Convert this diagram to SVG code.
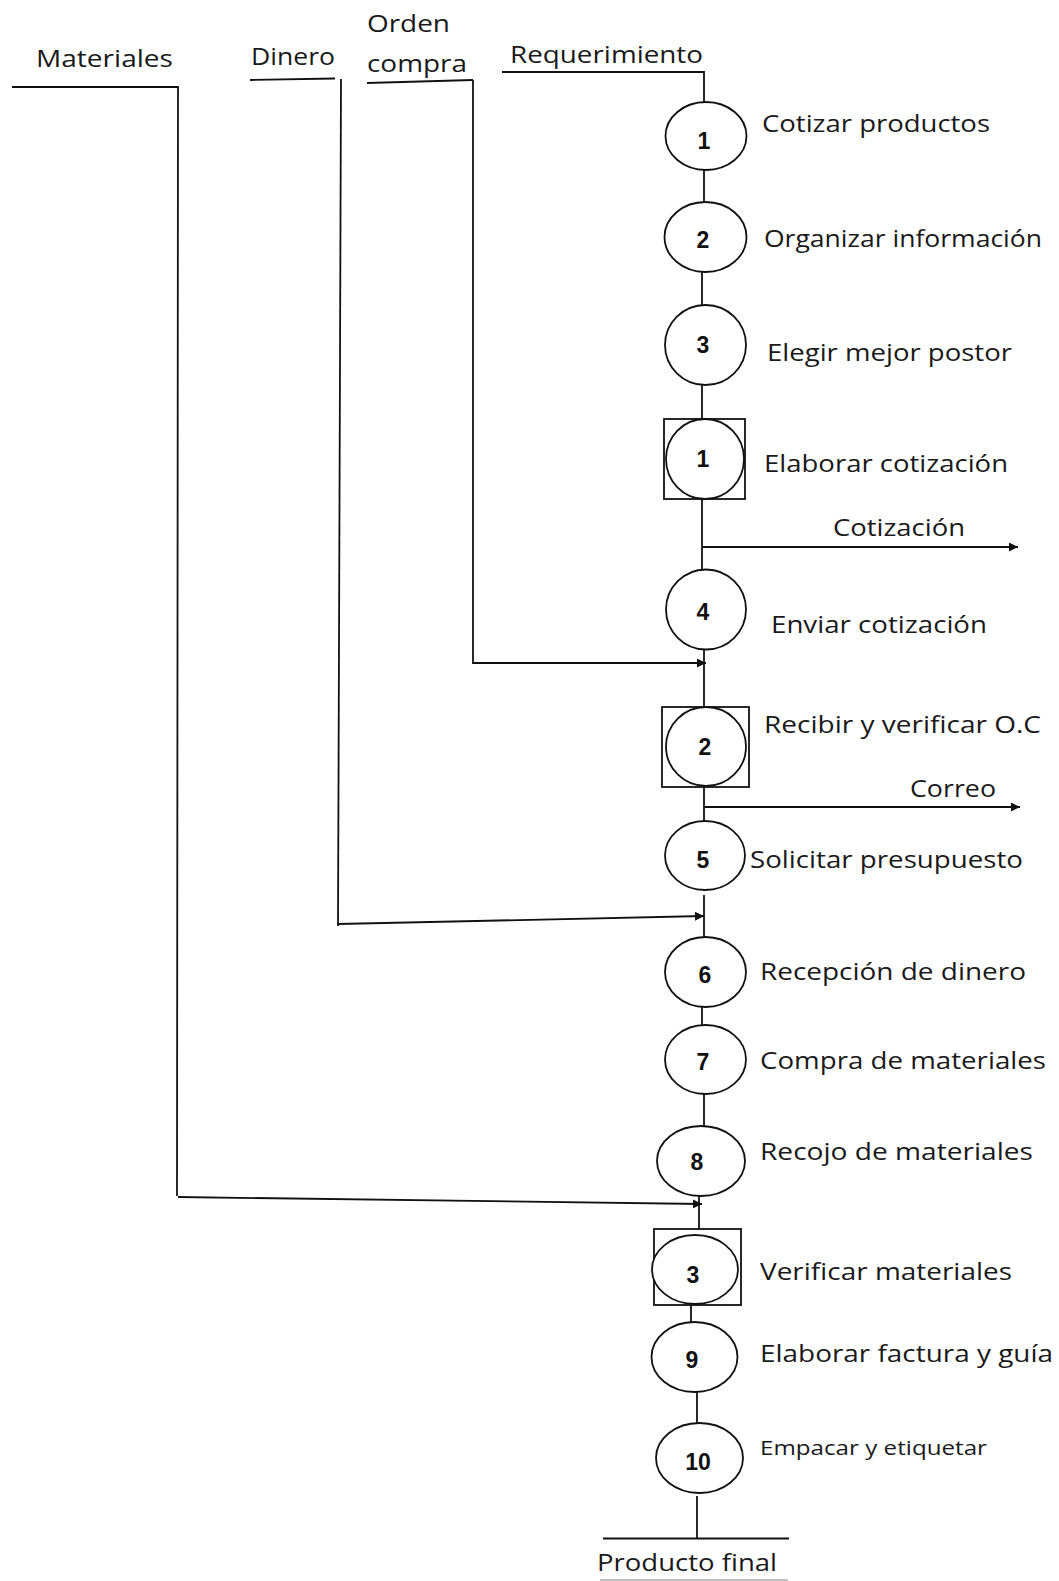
<svg xmlns="http://www.w3.org/2000/svg" width="1059" height="1581" viewBox="0 0 1059 1581">
<style>
.bg{fill:#fff}
.ln{fill:none;stroke:#111;stroke-width:1.8}
.lt{fill:none;stroke:#aaa;stroke-width:1.5}
.nd{fill:#fff;stroke:#111;stroke-width:1.8}
.bx{fill:none;stroke:#111;stroke-width:1.8}
.lb{font-family:"Open Sans","Liberation Sans",sans-serif;font-size:23px;fill:#1a1a1a}
.sm{font-size:20.5px}
.nm{font-family:"Liberation Sans",Arial,sans-serif;font-size:23px;font-weight:bold;fill:#111;text-anchor:middle}
</style>
<defs>
<marker id="ah" viewBox="0 0 10 10" refX="10" refY="5" markerWidth="11" markerHeight="9" markerUnits="userSpaceOnUse" orient="auto">
<path d="M0,0 L10,5 L0,10 z" fill="#111"/>
</marker>
</defs>
<rect class="bg" x="0" y="0" width="1059" height="1581"/>

<g id="connectors">
<polyline class="ln" points="502,72 704,72 704,102"/>
<line class="ln" x1="704" y1="170" x2="704" y2="202"/>
<line class="ln" x1="702" y1="272" x2="702" y2="305"/>
<line class="ln" x1="702" y1="385" x2="702" y2="419"/>
<line class="ln" x1="702" y1="499" x2="702" y2="570"/>
<line class="ln" x1="702" y1="547" x2="1018" y2="547" marker-end="url(#ah)"/>
<line class="ln" x1="704" y1="650" x2="704" y2="707"/>
<line class="ln" x1="367" y1="83" x2="473" y2="80"/>
<polyline class="ln" points="473,80 473,663 706,663" marker-end="url(#ah)"/>
<line class="ln" x1="704" y1="787" x2="704" y2="821"/>
<line class="ln" x1="704" y1="807" x2="1020" y2="807" marker-end="url(#ah)"/>
<line class="ln" x1="704" y1="895" x2="704" y2="937"/>
<line class="ln" x1="250" y1="80" x2="335" y2="78.5"/>
<line class="ln" x1="341" y1="79" x2="338" y2="926"/>
<line class="ln" x1="338" y1="924" x2="704" y2="916" marker-end="url(#ah)"/>
<line class="ln" x1="702" y1="1007" x2="702" y2="1025"/>
<line class="ln" x1="704" y1="1094" x2="704" y2="1126"/>
<line class="ln" x1="699" y1="1196" x2="699" y2="1229"/>
<polyline class="ln" points="12,87 178,87 177,1196"/>
<line class="ln" x1="178" y1="1197" x2="702" y2="1204" marker-end="url(#ah)"/>
<line class="ln" x1="691" y1="1305" x2="691" y2="1335"/>
<line class="ln" x1="697" y1="1392" x2="697" y2="1423"/>
<line class="ln" x1="697" y1="1496" x2="697" y2="1538"/>
<line class="ln" x1="603" y1="1538.5" x2="789" y2="1538.5"/>
<line class="lt" x1="600" y1="1580" x2="788" y2="1580"/>
</g>

<g id="inputs">
<text class="lb" x="36" y="67" textLength="137" lengthAdjust="spacingAndGlyphs">Materiales</text>
<text class="lb" x="251" y="65" textLength="84" lengthAdjust="spacingAndGlyphs">Dinero</text>
<text class="lb" x="367" y="32" textLength="83" lengthAdjust="spacingAndGlyphs">Orden</text>
<text class="lb" x="367" y="72" textLength="100" lengthAdjust="spacingAndGlyphs">compra</text>
<text class="lb" x="510" y="63" textLength="193" lengthAdjust="spacingAndGlyphs">Requerimiento</text>
</g>

<g id="n1">
<ellipse class="nd" cx="706" cy="136" rx="40.5" ry="34"/>
<text class="nm" x="704" y="149">1</text>
<text class="lb" x="762" y="132" textLength="228" lengthAdjust="spacingAndGlyphs">Cotizar productos</text>
</g>
<g id="n2">
<ellipse class="nd" cx="705.5" cy="237" rx="41" ry="35"/>
<text class="nm" x="703" y="248">2</text>
<text class="lb" x="764" y="247" textLength="278" lengthAdjust="spacingAndGlyphs">Organizar información</text>
</g>
<g id="n3">
<ellipse class="nd" cx="705.5" cy="345" rx="40.5" ry="40"/>
<text class="nm" x="703" y="353">3</text>
<text class="lb" x="767" y="361" textLength="245" lengthAdjust="spacingAndGlyphs">Elegir mejor postor</text>
</g>
<g id="i1">
<rect class="bx" x="664" y="419" width="81" height="80"/>
<ellipse class="nd" cx="705" cy="459" rx="39" ry="40"/>
<text class="nm" x="703" y="467">1</text>
<text class="lb" x="764" y="472" textLength="244" lengthAdjust="spacingAndGlyphs">Elaborar cotización</text>
</g>
<g id="out-cotizacion">
<text class="lb" x="833" y="536" textLength="132" lengthAdjust="spacingAndGlyphs">Cotización</text>
</g>
<g id="n4">
<ellipse class="nd" cx="706" cy="609.5" rx="40" ry="40"/>
<text class="nm" x="703" y="620">4</text>
<text class="lb" x="771" y="633" textLength="216" lengthAdjust="spacingAndGlyphs">Enviar cotización</text>
</g>
<g id="i2">
<rect class="bx" x="662" y="707" width="87" height="80"/>
<ellipse class="nd" cx="706" cy="746.5" rx="40" ry="39.5"/>
<text class="nm" x="705" y="755">2</text>
<text class="lb" x="764" y="733" textLength="277" lengthAdjust="spacingAndGlyphs">Recibir y verificar O.C</text>
</g>
<g id="out-correo">
<text class="lb" x="910" y="797" textLength="86" lengthAdjust="spacingAndGlyphs">Correo</text>
</g>
<g id="n5">
<ellipse class="nd" cx="705" cy="855.5" rx="40" ry="34.5"/>
<text class="nm" x="703" y="868">5</text>
<text class="lb" x="750" y="868" textLength="273" lengthAdjust="spacingAndGlyphs">Solicitar presupuesto</text>
</g>
<g id="n6">
<ellipse class="nd" cx="705.5" cy="972" rx="40.5" ry="35"/>
<text class="nm" x="705" y="983">6</text>
<text class="lb" x="760" y="980" textLength="266" lengthAdjust="spacingAndGlyphs">Recepción de dinero</text>
</g>
<g id="n7">
<ellipse class="nd" cx="705.5" cy="1059.5" rx="40.5" ry="34.5"/>
<text class="nm" x="703" y="1070">7</text>
<text class="lb" x="760" y="1069" textLength="286" lengthAdjust="spacingAndGlyphs">Compra de materiales</text>
</g>
<g id="n8">
<ellipse class="nd" cx="701" cy="1161" rx="44" ry="35"/>
<text class="nm" x="697" y="1170">8</text>
<text class="lb" x="760" y="1160" textLength="273" lengthAdjust="spacingAndGlyphs">Recojo de materiales</text>
</g>
<g id="i3">
<rect class="bx" x="654" y="1229" width="87" height="76"/>
<ellipse class="nd" cx="695" cy="1269.5" rx="43" ry="34.5"/>
<text class="nm" x="693" y="1283">3</text>
<text class="lb" x="760" y="1280" textLength="252" lengthAdjust="spacingAndGlyphs">Verificar materiales</text>
</g>
<g id="n9">
<ellipse class="nd" cx="694.5" cy="1357" rx="43" ry="35"/>
<text class="nm" x="692" y="1368">9</text>
<text class="lb" x="760" y="1362" textLength="293" lengthAdjust="spacingAndGlyphs">Elaborar factura y guía</text>
</g>
<g id="n10">
<ellipse class="nd" cx="699.5" cy="1458" rx="43.5" ry="35"/>
<text class="nm" x="698" y="1470">10</text>
<text class="lb sm" x="760" y="1455" textLength="227" lengthAdjust="spacingAndGlyphs">Empacar y etiquetar</text>
</g>
<g id="producto-final">
<text class="lb" x="597" y="1571" textLength="180" lengthAdjust="spacingAndGlyphs">Producto final</text>
</g>
</svg>
